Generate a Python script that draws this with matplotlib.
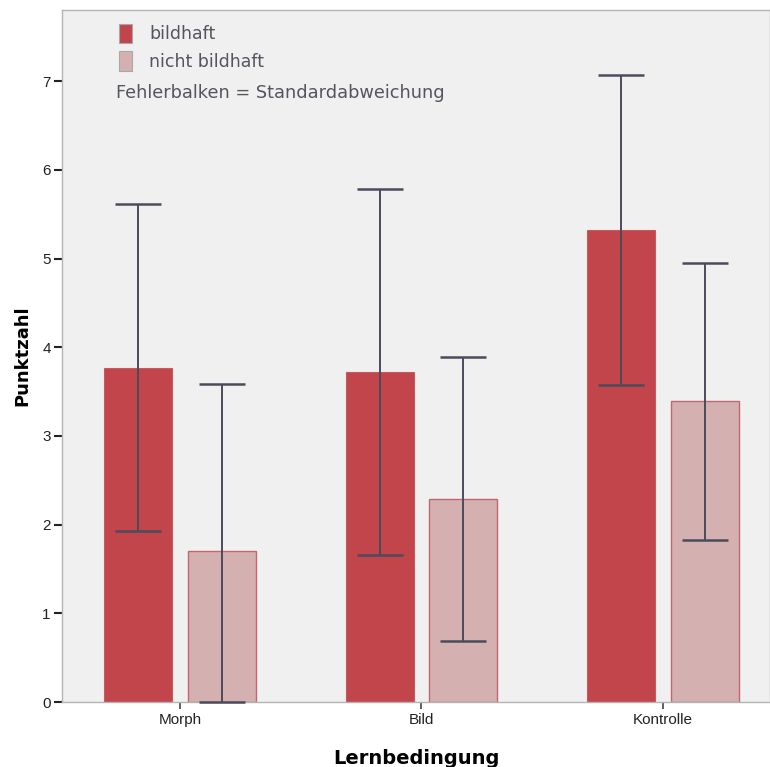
import matplotlib.pyplot as plt
import matplotlib.patches as mpatches
import numpy as np

# Werte
bedingungen = ['Morph', 'Bild', 'Kontrolle']
bildhaft_mw = [3.77, 3.72, 5.32]
bildhaft_sd = [1.84, 2.06, 1.75]
nicht_mw = [1.70, 2.29, 3.39]
nicht_sd = [1.89, 1.60, 1.56]

rot = '#c1454a'
rosa = '#d5b0b1'
rosa_rand = '#c4666b'
fehler_farbe = '#4b4b5c'

fig = plt.figure(figsize=(7.70, 7.67), dpi=100)
ax = fig.add_axes([0.0805, 0.0847, 0.9195, 0.902])
ax.set_facecolor('#f0f0f0')

x = np.arange(len(bedingungen))
w = 0.282
off = 0.173

def fehler(mw, sd):
    mw = np.array(mw)
    sd = np.array(sd)
    unten = np.minimum(sd, mw)  # bei 0 abgeschnitten
    return [unten, sd]

ax.bar(x - off, bildhaft_mw, w, color=rot, edgecolor='#c65a5e', linewidth=0.8, zorder=2)
ax.bar(x + off, nicht_mw, w, color=rosa, edgecolor=rosa_rand, linewidth=1.0, zorder=2)
ax.errorbar(x - off, bildhaft_mw, yerr=fehler(bildhaft_mw, bildhaft_sd), fmt='none',
            ecolor=fehler_farbe, elinewidth=1.4, capsize=16.5, capthick=1.8, zorder=3)
ax.errorbar(x + off, nicht_mw, yerr=fehler(nicht_mw, nicht_sd), fmt='none',
            ecolor=fehler_farbe, elinewidth=1.4, capsize=16.5, capthick=1.8, zorder=3,
            clip_on=False)

ax.set_xlim(-0.489, 2.444)
ax.set_ylim(0, 7.80)
ax.set_yticks(range(8))
ax.set_xticks(x)
ax.set_xticklabels(bedingungen)

for s in ax.spines.values():
    s.set_color('#b4b4b4')
    s.set_linewidth(1.0)

ax.tick_params(axis='y', direction='out', length=6, width=1.5, color='#222222',
               labelsize=11, labelcolor='#222222', pad=2)
ax.tick_params(axis='x', direction='out', length=5, width=1.2, color='#444444',
               labelsize=11, labelcolor='#222222', pad=3)
for lab in ax.get_xticklabels() + ax.get_yticklabels():
    lab.set_family('Liberation Sans')

ax.set_xlabel('Lernbedingung', fontsize=14, fontweight='bold', labelpad=16,
              family='DejaVu Sans')
ax.set_ylabel('Punktzahl', fontsize=13, fontweight='bold', labelpad=8,
              family='DejaVu Sans')

handles = [mpatches.Patch(facecolor=rot, edgecolor='#a8a8a8', linewidth=0.8),
           mpatches.Patch(facecolor=rosa, edgecolor='#a8a8a8', linewidth=0.8)]
leg = ax.legend(handles, ['bildhaft', 'nicht bildhaft'], loc='upper left',
                bbox_to_anchor=(0.058, 1.003), frameon=False, handlelength=0.75,
                handleheight=1.35, handletextpad=1.0, labelspacing=0.45,
                prop={'family': 'DejaVu Sans', 'size': 12.5})
for t in leg.get_texts():
    t.set_color('#55555f')
ax.text(0.076, 0.880, 'Fehlerbalken = Standardabweichung', transform=ax.transAxes,
        fontsize=12.8, color='#55555f', va='center', family='DejaVu Sans')

fig.savefig('out.png', dpi=100, facecolor='white')
